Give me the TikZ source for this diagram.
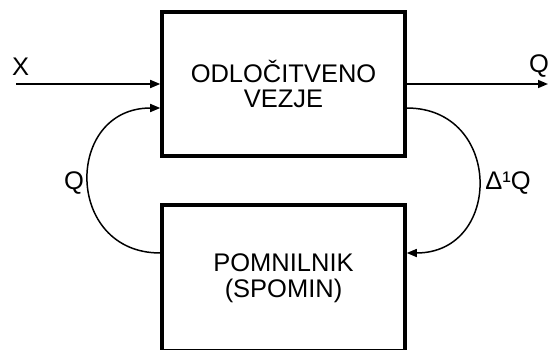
\documentclass[tikz,border=0pt]{standalone}
\usepackage{fontspec}
\setmainfont{Liberation Sans}
\usetikzlibrary{arrows.meta,positioning}

\begin{document}
\begin{tikzpicture}[
  font=\fontsize{14.5}{14.5}\selectfont,
  block/.style={draw, line width=2pt, minimum width=4.86cm, minimum height=#1, align=center, inner sep=0pt},
  sig/.style={-{Triangle[length=2mm,width=1.6mm]}, line width=0.85pt},
  lbl/.style={inner sep=0pt},
]
\useasboundingbox (0,0) rectangle (11,6.98);
% blocks
\node[block=2.87cm] (odl) at (5.67,5.30) {ODLOČITVENO\\VEZJE};
\node[block=2.92cm] (pom) at (5.67,1.42) {POMNILNIK\\(SPOMIN)};
% input / output
\coordinate (xin) at (0.32,5.30);
\coordinate (qout) at (10.96,5.30);
\draw[sig] (xin) -- (odl.west);
\draw[sig] (odl.east) -- (qout);
\node[lbl] (xl) at (0.41,5.64) {X};
\node[lbl] (ql) at (10.78,5.66) {Q};
% feedback loop
\draw[sig] ([yshift=0.50cm]pom.west) to[out=180, in=180, looseness=1.7] ([yshift=-0.48cm]odl.west);
\draw[sig] ([yshift=-0.48cm]odl.east) to[out=0, in=0, looseness=1.7] ([yshift=0.50cm]pom.east);
\node[lbl] (qfb) at (1.48,3.32) {Q};
\node[lbl] (dq) at (10.16,3.32) {Δ¹Q};
\end{tikzpicture}
\end{document}
